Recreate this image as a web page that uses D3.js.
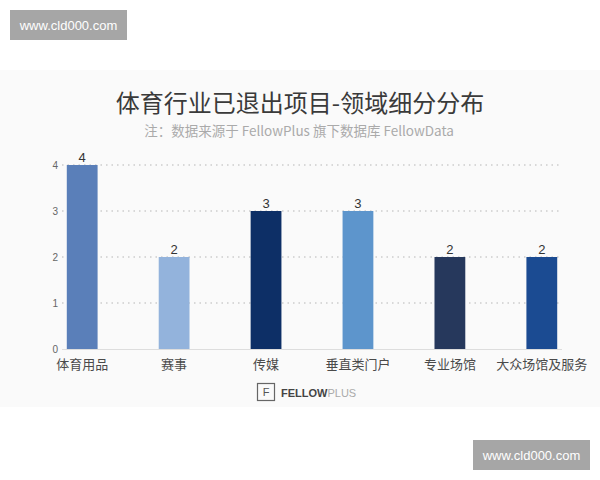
<!DOCTYPE html>
<html><head><meta charset="utf-8">
<script src="https://cdn.jsdelivr.net/npm/d3@7"></script>
<style>body{margin:0;background:#fff;}svg{display:block;}</style>
</head><body>
<script>
const categories = ["体育用品","赛事","传媒","垂直类门户","专业场馆","大众场馆及服务"];
const values = [4,2,3,3,2,2];
const colors = ["#5a7fb9","#93b3dc","#0d2f66","#5d95cc","#26385c","#1b4b92"];
const yTicks = [0,1,2,3,4];
const title = "体育行业已退出项目-领域细分分布";
const subtitle = "注：数据来源于 FellowPlus 旗下数据库 FellowData";

const W=600,H=480;
const svg=d3.select("body").append("svg").attr("width",W).attr("height",H);
const font="'Noto Sans CJK SC','Noto Sans',sans-serif";

svg.append("rect").attr("x",0).attr("y",70).attr("width",W).attr("height",337).attr("fill","#fafafa");

// watermarks
function wm(x,y){
  svg.append("rect").attr("x",x).attr("y",y).attr("width",117).attr("height",30).attr("fill","#a6a6a6");
  svg.append("text").attr("x",x+58.5).attr("y",y+20).attr("text-anchor","middle")
    .attr("font-family","'Liberation Sans',Arial,sans-serif").attr("font-size",13).attr("fill","#fff").text("www.cld000.com");
}
wm(10,10); wm(473,440);

svg.append("text").attr("x",300).attr("y",112).attr("text-anchor","middle")
  .attr("font-family",font).attr("font-size",24).attr("fill","#3a3a3a").text(title);
svg.append("text").attr("x",299).attr("y",136).attr("text-anchor","middle")
  .attr("font-family",font).attr("font-size",13.5).attr("fill","#aaaaaa").text(subtitle);

const x=d3.scaleBand().domain(categories).range([36,588]).paddingInner(0.665).paddingOuter(0.335);
const y=d3.scaleLinear().domain([0,4]).range([349,165]);

// grid
const g=svg.append("g");
g.selectAll("line.grid").data(yTicks.filter(d=>d>0)).join("line")
  .attr("x1",62).attr("x2",560).attr("y1",d=>y(d)).attr("y2",d=>y(d))
  .attr("stroke","#b5b5b5").attr("stroke-width",1.2).attr("stroke-dasharray","1.5,4");
g.append("line").attr("x1",62).attr("x2",562).attr("y1",y(0)+0.5).attr("y2",y(0)+0.5).attr("stroke","#dddddd");

// y axis labels
const yAxis=d3.axisLeft(y).tickValues(yTicks).tickSize(0).tickPadding(0).tickFormat(d3.format("d"));
const ya=svg.append("g").attr("transform","translate(58,0)").call(yAxis);
ya.select(".domain").remove();
ya.selectAll("text").attr("font-family","'Liberation Sans',Arial,sans-serif").attr("font-size",10).attr("fill","#666");

// bars
svg.selectAll("rect.bar").data(values).join("rect").attr("class","bar")
  .attr("x",(d,i)=>x(categories[i])).attr("width",x.bandwidth())
  .attr("y",d=>y(d)).attr("height",d=>y(0)-y(d))
  .attr("fill",(d,i)=>colors[i]);
svg.selectAll("text.val").data(values).join("text").attr("class","val")
  .attr("x",(d,i)=>x(categories[i])+x.bandwidth()/2).attr("y",d=>y(d)-3)
  .attr("text-anchor","middle").attr("font-family","'Liberation Sans',Arial,sans-serif")
  .attr("font-size",13).attr("fill","#333").text(d=>d);

// x axis labels
const xAxis=d3.axisBottom(x).tickSize(0).tickPadding(0);
const xa=svg.append("g").attr("transform","translate(0,357)").call(xAxis);
xa.select(".domain").remove();
xa.selectAll("text").attr("font-family",font).attr("font-size",13).attr("fill","#4a4a4a").attr("dy","0.9em");

// logo
const lg=svg.append("g");
lg.append("rect").attr("x",257.5).attr("y",383.5).attr("width",17).attr("height",17).attr("fill","none").attr("stroke","#666").attr("stroke-width",1.2);
lg.append("text").attr("x",266).attr("y",396).attr("text-anchor","middle").attr("font-family","'Liberation Sans',sans-serif").attr("font-size",11).attr("fill","#555").text("F");
const lt=lg.append("text").attr("x",281).attr("y",397).attr("font-family","'Liberation Sans',Arial,sans-serif").attr("font-size",11);
lt.append("tspan").attr("font-weight","bold").attr("fill","#444").text("FELLOW");
lt.append("tspan").attr("fill","#aaa").text("PLUS");
</script>
</body></html>
